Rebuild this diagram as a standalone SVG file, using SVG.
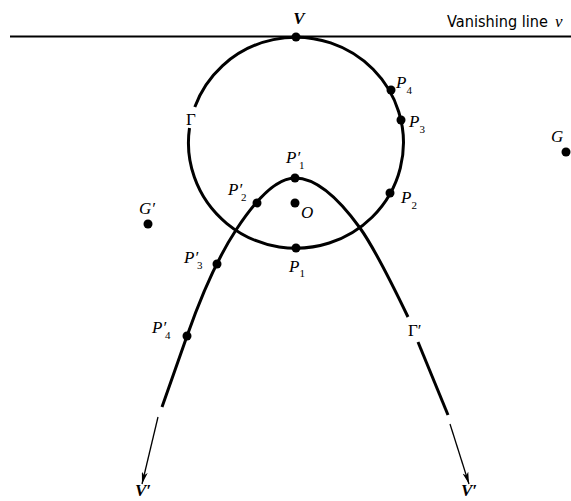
<svg xmlns="http://www.w3.org/2000/svg" width="571" height="501" viewBox="0 0 571 501">
<style>
.curve{fill:none;stroke:#000;stroke-width:3;stroke-linecap:butt}
.thin{fill:none;stroke:#000;stroke-width:1.3}
.dot{fill:#000}
.lbl{font-family:"Liberation Serif",serif;font-style:italic;font-size:17px;fill:#000}
.sub{font-size:11px;font-style:normal}
.up{font-family:"Liberation Serif",serif;font-size:17px;fill:#000}
.bold{font-weight:bold}
.sans{font-family:"DejaVu Sans","Liberation Sans",sans-serif;font-size:15px;fill:#000}
</style>
<defs>
<marker id="arr" viewBox="0 0 12 6" refX="12" refY="3" markerWidth="12" markerHeight="6" markerUnits="userSpaceOnUse" orient="auto">
<path d="M0,0 L12,3 L0,6 L3,3 Z" fill="#000"/>
</marker>
</defs>
<rect width="571" height="501" fill="#fff"/>
<g id="connectors">
<line x1="10" y1="36.5" x2="571" y2="36.5" stroke="#000" stroke-width="1.8"/>
<path id="circle-gamma" class="curve" d="M189.5,128 A107.5,105.5 0 1 0 194.8,107"/>
<path id="parabola-left" class="curve" d="M295,178 Q270,178 236,230 Q210.7,268.6 187,336 L162,407"/>
<path id="parabola-right-a" class="curve" d="M295,178 Q324,178 360,228 Q375.8,250 408,317"/>
<path id="parabola-right-b" class="curve" d="M418,342 L448,415"/>
<line class="thin" x1="158" y1="417" x2="142" y2="484" marker-end="url(#arr)"/>
<line class="thin" x1="450" y1="424" x2="469" y2="484" marker-end="url(#arr)"/>
</g>
<g id="vanishing-line-label">
<text class="sans" x="447" y="27" textLength="101" lengthAdjust="spacingAndGlyphs">Vanishing line</text>
<text class="lbl" x="555" y="27">v</text>
</g>
<g id="node-V"><circle class="dot" cx="296" cy="37" r="4.5"/><text class="lbl bold" x="299" y="24" text-anchor="middle">V</text></g>
<g id="node-P4"><circle class="dot" cx="391" cy="90" r="4.5"/><text class="lbl" x="396" y="88">P<tspan class="sub" dy="6">4</tspan></text></g>
<g id="node-P3"><circle class="dot" cx="401" cy="120" r="4.5"/><text class="lbl" x="409" y="127">P<tspan class="sub" dy="6">3</tspan></text></g>
<g id="node-P2"><circle class="dot" cx="390" cy="193" r="4.5"/><text class="lbl" x="401" y="203">P<tspan class="sub" dy="6">2</tspan></text></g>
<g id="node-P1"><circle class="dot" cx="296" cy="248" r="4.5"/><text class="lbl" x="289" y="272">P<tspan class="sub" dy="5">1</tspan></text></g>
<g id="node-O"><circle class="dot" cx="295" cy="203" r="4.5"/><text class="lbl" x="301" y="218">O</text></g>
<g id="node-P1p"><circle class="dot" cx="295" cy="178" r="4.5"/><text class="lbl" x="286" y="163">P′<tspan class="sub" dx="-1" dy="6">1</tspan></text></g>
<g id="node-P2p"><circle class="dot" cx="257" cy="203" r="4.5"/><text class="lbl" x="228" y="195">P′<tspan class="sub" dx="-1" dy="6">2</tspan></text></g>
<g id="node-P3p"><circle class="dot" cx="217" cy="264" r="4.5"/><text class="lbl" x="184" y="263">P′<tspan class="sub" dx="-1" dy="6">3</tspan></text></g>
<g id="node-P4p"><circle class="dot" cx="187" cy="336" r="4.5"/><text class="lbl" x="152" y="333">P′<tspan class="sub" dx="-1" dy="6">4</tspan></text></g>
<g id="node-Gp"><circle class="dot" cx="148" cy="224" r="4.5"/><text class="lbl" x="139" y="214">G′</text></g>
<g id="node-G"><circle class="dot" cx="566" cy="152" r="4.5"/><text class="lbl" x="551" y="142">G</text></g>
<g id="label-Gamma"><text class="up" x="186" y="125">Γ</text></g>
<g id="label-Gammap"><text class="up" x="408" y="336">Γ′</text></g>
<g id="node-Vp-left"><text class="lbl bold" x="135" y="496">V′</text></g>
<g id="node-Vp-right"><text class="lbl bold" x="461" y="496">V′</text></g>
</svg>
